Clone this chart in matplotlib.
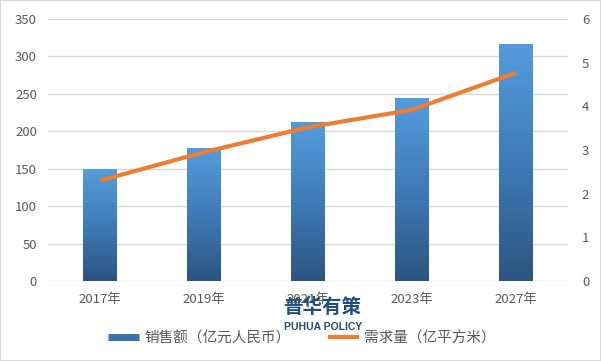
import matplotlib.pyplot as plt
import numpy as np
from matplotlib.colors import LinearSegmentedColormap
from matplotlib.lines import Line2D

plt.rcParams['font.family'] = ['Noto Sans CJK SC', 'DejaVu Sans']

years = ['2017年', '2019年', '2021年', '2023年', '2027年']
sales = [149, 178, 212, 245, 317]      # 销售额 (亿元人民币)
demand = [2.3, 2.95, 3.52, 3.92, 4.77]  # 需求量 (亿平方米)

fig = plt.figure(figsize=(6.01, 3.61), dpi=100)
ax = fig.add_axes([48/601, 1-281/361, 520/601, 262/361])
ax2 = ax.twinx()

x = np.arange(len(years))
bw = 0.32
cmap = LinearSegmentedColormap.from_list('bar', ['#2c5580', '#3f7bb8', '#559cdc'])
grad = np.linspace(0, 1, 256).reshape(-1, 1)
bars = ax.bar(x, sales, width=bw, color='none', zorder=2)
for b in bars:
    x0, y0 = b.get_x(), b.get_y()
    w, h = b.get_width(), b.get_height()
    im = ax.imshow(grad, cmap=cmap, aspect='auto', origin='lower',
                   extent=[x0, x0 + w, y0, y0 + h], zorder=2)
    im.set_clip_path(b)

ax.set_xlim(-0.5, len(years) - 0.5)
ax.set_ylim(0, 350)
ax.set_yticks(range(0, 351, 50))
ax.set_xticks(x)
ax.set_xticklabels(years)
ax.grid(axis='y', color='#d9d9d9', linewidth=1)
ax.set_axisbelow(True)

ax2.plot(x, demand, color='#ED7D31', linewidth=3, solid_capstyle='butt', zorder=3)
ax2.set_ylim(0, 6)
ax2.set_yticks(range(0, 7))

for a in (ax, ax2):
    for s in a.spines.values():
        s.set_visible(False)
    a.tick_params(length=0, labelsize=9.5, colors='#595959')
ax.tick_params(axis='y', pad=8)
ax2.tick_params(axis='y', pad=10)
ax.tick_params(axis='x', pad=9)

# legend
handles = [Line2D([0], [0], color='#3a72ab', linewidth=5, solid_capstyle='butt'),
           Line2D([0], [0], color='#ED7D31', linewidth=3, solid_capstyle='butt')]
fig.legend(handles, ['销售额（亿元人民币）', '需求量（亿平方米）'],
           loc='center', bbox_to_anchor=(302/601, 1-338/361), ncol=2, frameon=False,
           fontsize=10.5, labelcolor='#595959', handlelength=2.1, columnspacing=2.6,
           handletextpad=0.35)

# watermark
fig.text(322/601, 1-307/361, '普华有策', ha='center', va='center', fontsize=14,
         fontweight='black', color='#1f4e79')
fig.text(323/601, 1-327/361, 'PUHUA POLICY', ha='center', va='center', fontsize=7.5,
         fontweight='bold', color='#1f4e79', family=['Liberation Sans', 'DejaVu Sans'])

fig.patches.append(plt.Rectangle((0, 0), 1, 1, transform=fig.transFigure,
                                 fill=False, edgecolor='#d9d9d9', linewidth=1.5))

fig.savefig('out.png', dpi=100)
